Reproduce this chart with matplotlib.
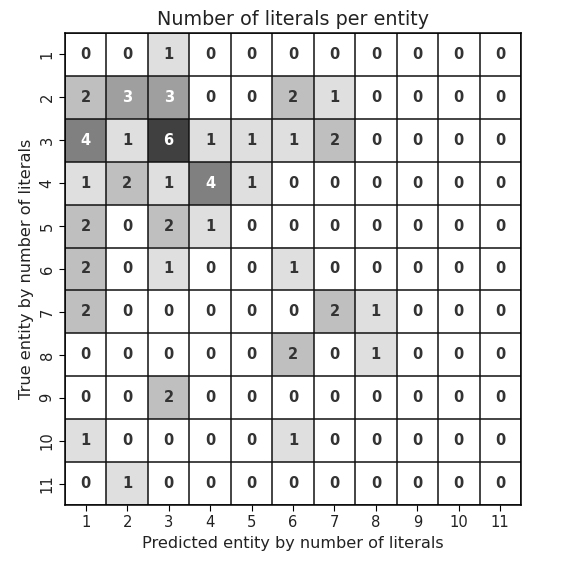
import matplotlib
matplotlib.use("Agg")
import matplotlib.pyplot as plt
import numpy as np

labels = ["1", "2", "3", "4", "5", "6", "7", "8", "9", "10", "11"]
counts = [
    [0, 0, 1, 0, 0, 0, 0, 0, 0, 0, 0],
    [2, 3, 3, 0, 0, 2, 1, 0, 0, 0, 0],
    [4, 1, 6, 1, 1, 1, 2, 0, 0, 0, 0],
    [1, 2, 1, 4, 1, 0, 0, 0, 0, 0, 0],
    [2, 0, 2, 1, 0, 0, 0, 0, 0, 0, 0],
    [2, 0, 1, 0, 0, 1, 0, 0, 0, 0, 0],
    [2, 0, 0, 0, 0, 0, 2, 1, 0, 0, 0],
    [0, 0, 0, 0, 0, 2, 0, 1, 0, 0, 0],
    [0, 0, 2, 0, 0, 0, 0, 0, 0, 0, 0],
    [1, 0, 0, 0, 0, 1, 0, 0, 0, 0, 0],
    [0, 1, 0, 0, 0, 0, 0, 0, 0, 0, 0],
]

data = np.array(counts)
n = len(labels)

fig = plt.figure(figsize=(5.73, 5.63), dpi=100)
ax = fig.add_axes([65/573, 1 - 505/563, 456/573, 472/563])
ax.imshow(data, cmap="gray_r", vmin=0, vmax=data.max(), alpha=0.75,
          aspect="auto", interpolation="nearest")

# grid lines
for k in range(n + 1):
    ax.axhline(k - 0.5, color="#111111", lw=1.1)
    ax.axvline(k - 0.5, color="#111111", lw=1.1)

thresh = data.max() / 2
for i in range(n):
    for j in range(n):
        v = data[i, j]
        ax.text(j, i, str(v), ha="center", va="center", fontsize=10.5,
                fontweight="bold",
                color="white" if v >= thresh else "#333333")

for s in ax.spines.values():
    s.set_linewidth(1.1)
ax.set_xticks(range(n))
ax.set_xticklabels(labels, fontsize=10.6, color="#222222")
ax.set_yticks(range(n))
ax.set_yticklabels(labels, fontsize=10.6, rotation=90, va="center", color="#222222")
ax.tick_params(length=4)
ax.set_xlim(-0.5, n - 0.5)
ax.set_ylim(n - 0.5, -0.5)
ax.set_xlabel("Predicted entity by number of literals", fontsize=11.6, color="#222222")
ax.set_ylabel("True entity by number of literals", fontsize=11.6, color="#222222")
ax.set_title("Number of literals per entity", fontsize=13.8, color="#222222")

fig.savefig("out.png", dpi=100)
